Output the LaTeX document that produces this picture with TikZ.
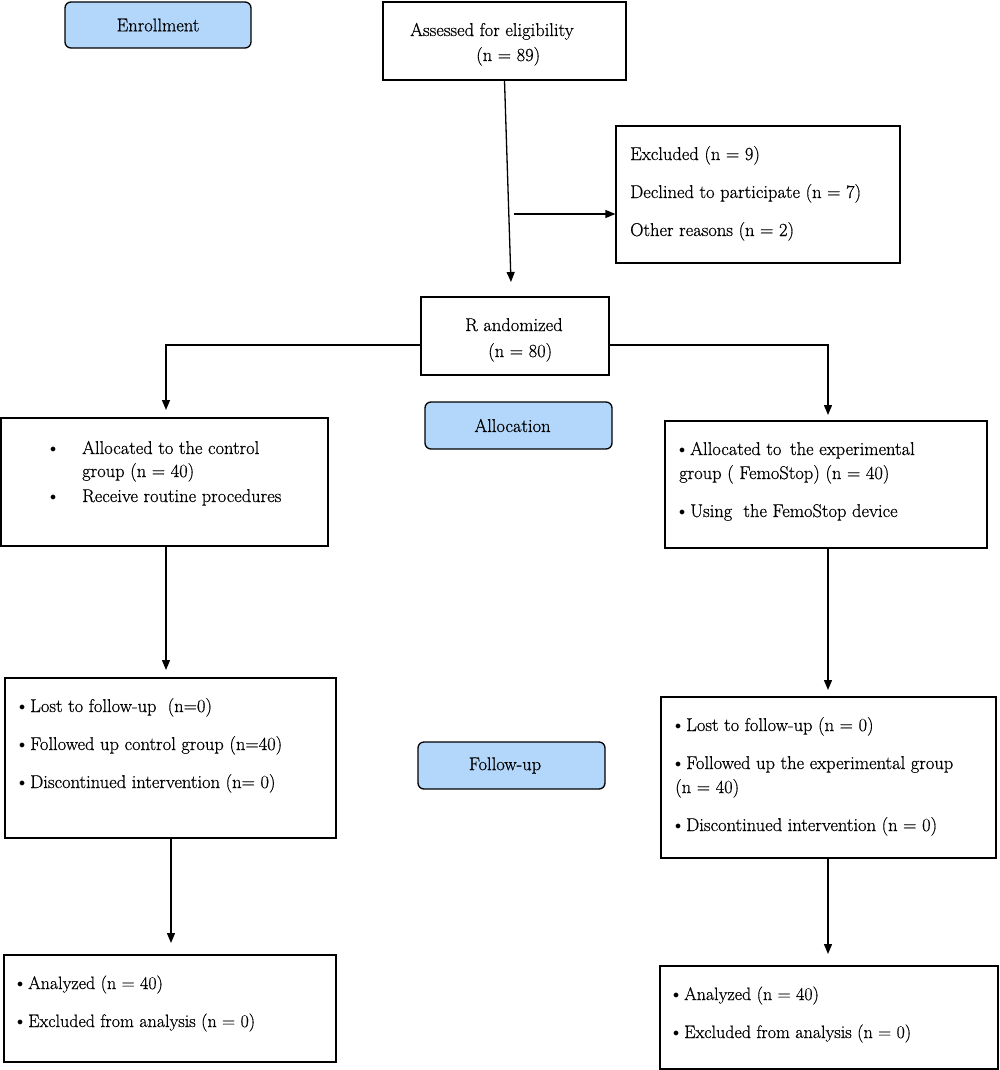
\documentclass[tikz,border=0pt]{standalone}
\usepackage{fontspec}
\setmainfont{Latin Modern Roman}[FakeBold=0.6]
\usetikzlibrary{arrows.meta}
\definecolor{lblue}{HTML}{B3D7FB}
\newcommand{\bul}{\raisebox{1.5pt}{\scalebox{0.7}{$\bullet$}}\kern5pt}
\begin{document}
\begin{tikzpicture}[x=1pt,y=-1pt,
  box/.style={draw=black, line width=1.3pt, inner sep=0pt, fill=white},
  stage/.style={draw=black, line width=1.3pt, rounded corners=6pt, fill=lblue, inner sep=0pt},
  txt/.style={inner sep=0pt, anchor=base west, font=\fontsize{18.5}{22}\selectfont},
  ntxt/.style={inner sep=0pt, anchor=base west, font=\fontsize{18}{22}\selectfont},
  ctxt/.style={inner sep=0pt, font=\fontsize{18.5}{22}\selectfont},
  arr/.style={line width=1.3pt, -{Triangle[length=10pt,width=8pt]}},
  ln/.style={line width=1.3pt}]
\useasboundingbox (0,0) rectangle (1000,1070);
% stage labels
\node[stage, minimum width=186pt, minimum height=46pt] (enr) at (158,25) {};
\node[ctxt] (enrt) at (158,25) {Enrollment};
\node[stage, minimum width=187pt, minimum height=47pt] (alloc) at (518.5,425.5) {};
\node[ctxt] (alloct) at (512.5,425.5) {Allocation};
\node[stage, minimum width=187pt, minimum height=47pt] (fup) at (511.5,765.5) {};
\node[ctxt] (fupt) at (505,765.5) {Follow-up};
% boxes
\node[box, minimum width=243pt, minimum height=78pt] (assess) at (504.5,41) {};
\node[txt] (a1) at (410,36) {Assessed for eligibility};
\node[txt] (a2) at (476,61) {(n = 89)};
\node[box, minimum width=284pt, minimum height=137pt] (excl) at (758,194.5) {};
\node[txt] (e1) at (630,160) {Excluded (n = 9)};
\node[txt] (e2) at (630,198) {Declined to participate (n = 7)};
\node[txt] (e3) at (630,236) {Other reasons (n = 2)};
\node[box, minimum width=188pt, minimum height=78pt] (random) at (515,336) {};
\node[txt] (r1) at (465,331) {R andomized};
\node[txt] (r2) at (488,357) {(n = 80)};
\node[box, minimum width=327pt, minimum height=128pt] (ctrl) at (164.5,482) {};
\node[txt] (c0a) at (50,454) {\bul};
\node[txt] (c1) at (82,454) {Allocated to the control};
\node[txt] (c2) at (82,477) {group (n = 40)};
\node[txt] (c0b) at (50,502) {\bul};
\node[txt] (c3) at (82,502) {Receive routine procedures};
\node[box, minimum width=322pt, minimum height=127pt] (expg) at (826,484.5) {};
\node[txt] (x1) at (679,455) {\bul Allocated to\, the experimental};
\node[txt] (x2) at (679,479) {group ( FemoStop) (n = 40)};
\node[txt] (x3) at (679,517) {\bul Using \ the FemoStop device};
\node[box, minimum width=331pt, minimum height=160pt] (fuc) at (170.5,758) {};
\node[txt] (f1) at (19,712) {\bul Lost to follow-up \ (n=0)};
\node[txt] (f2) at (19,750) {\bul Followed up control group (n=40)};
\node[txt] (f3) at (19,788) {\bul Discontinued intervention (n= 0)};
\node[box, minimum width=335pt, minimum height=161pt] (fue) at (828.5,777.5) {};
\node[txt] (g1) at (675,731) {\bul Lost to follow-up (n = 0)};
\node[txt] (g2) at (675,769) {\bul Followed up the experimental group};
\node[txt] (g3) at (675,793) {(n = 40)};
\node[txt] (g4) at (675,831) {\bul Discontinued intervention (n = 0)};
\node[box, minimum width=332pt, minimum height=107pt] (anc) at (170,1008.5) {};
\node[ntxt] (h1) at (17,989) {\bul Analyzed (n = 40)};
\node[ntxt] (h2) at (17,1027) {\bul Excluded from analysis (n = 0)};
\node[box, minimum width=338pt, minimum height=103pt] (ane) at (829,1017.5) {};
\node[ntxt] (k1) at (673,1000) {\bul Analyzed (n = 40)};
\node[ntxt] (k2) at (673,1038) {\bul Excluded from analysis (n = 0)};
% connector ends
\coordinate (rin) at (511,282);
\coordinate (exs) at (514,214);
\coordinate (cin) at (166,410);
\coordinate (ein) at (828,415);
\coordinate (cfu) at (166,670);
\coordinate (efu) at (828,690);
\coordinate (can) at (171,943);
\coordinate (ean) at (828,954);
% connectors
\draw[arr] (assess.south) -- (rin);
\draw[arr] (exs) -- (exs -| excl.west);
\draw[arr] ([yshift=-9pt]random.west) -| (cin);
\draw[arr] ([yshift=-9pt]random.east) -| (ein);
\draw[arr] (ctrl.south -| cfu) -- (cfu);
\draw[arr] (expg.south -| efu) -- (efu);
\draw[arr] ([yshift=2pt]fuc.south -| can) -- (can);
\draw[arr] (fue.south -| ean) -- (ean);
\end{tikzpicture}
\end{document}
